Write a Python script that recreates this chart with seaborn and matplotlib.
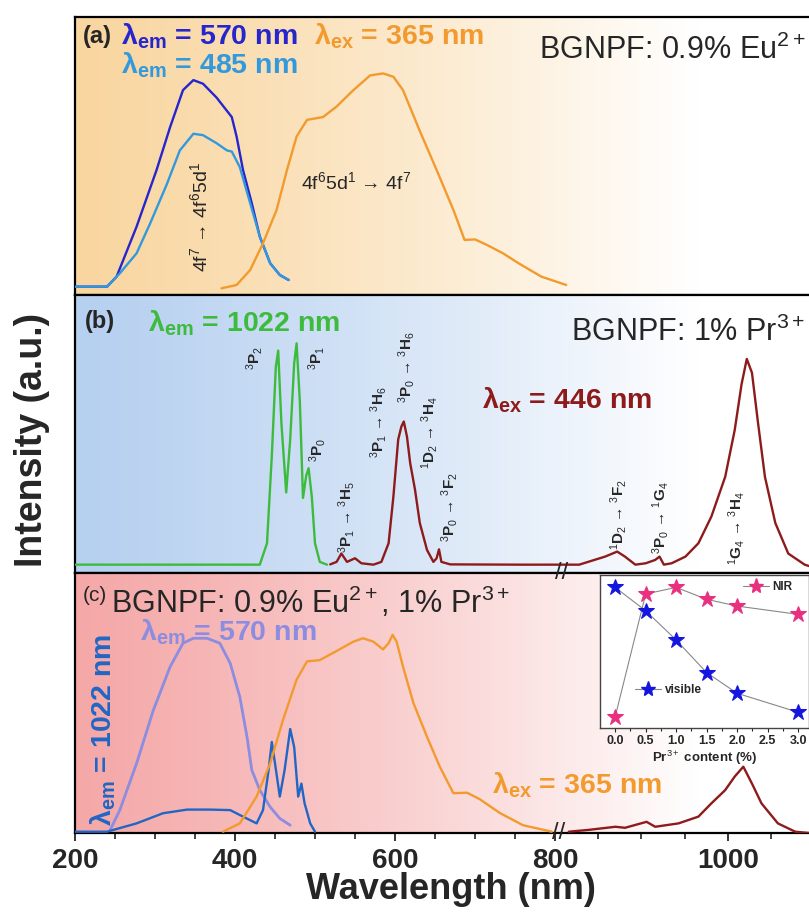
import numpy as np
import matplotlib
matplotlib.use("Agg")
import matplotlib.pyplot as plt
from matplotlib.lines import Line2D
import seaborn as sns

# ---- values (intensity = fraction of panel height) ----
# panel (a): BGNPF 0.9% Eu2+
a_em570_nm = [200, 240, 252, 277, 302, 319, 335, 348, 360, 377, 396, 402, 410, 421, 431, 444, 456, 467]
a_em570_int = [0.03, 0.03, 0.066, 0.246, 0.45, 0.605, 0.737, 0.773, 0.76, 0.71, 0.64, 0.57, 0.45, 0.33, 0.21, 0.114, 0.072, 0.054]
a_em485_nm = [200, 240, 256, 277, 294, 315, 331, 348, 360, 377, 390, 396, 406, 419, 431, 444, 456, 467]
a_em485_int = [0.03, 0.03, 0.078, 0.15, 0.258, 0.40, 0.52, 0.58, 0.575, 0.546, 0.52, 0.516, 0.46, 0.33, 0.21, 0.114, 0.072, 0.054]
a_ex365_nm = [383, 402, 419, 435, 452, 465, 477, 490, 510, 527, 548, 569, 585, 598, 610, 631, 652, 673, 687,
              700, 715, 735, 754, 783, 813]
a_ex365_int = [0.024, 0.036, 0.09, 0.186, 0.306, 0.45, 0.57, 0.63, 0.64, 0.678, 0.737, 0.79, 0.797, 0.785, 0.737,
               0.59, 0.45, 0.306, 0.198, 0.20, 0.18, 0.15, 0.115, 0.066, 0.036]

# panel (b): BGNPF 1% Pr3+
b_em1022_nm = [200, 431, 440, 446, 451, 454, 458, 464, 469, 474, 477, 481, 485, 489, 492, 496, 500, 506, 515]
b_em1022_int = [0.03, 0.03, 0.107, 0.42, 0.74, 0.80, 0.54, 0.29, 0.48, 0.755, 0.826, 0.62, 0.27, 0.35, 0.377,
                0.275, 0.107, 0.04, 0.03]
b_ex446_nm = [519, 527, 533, 540, 550, 558, 573, 583, 592, 598, 604, 608, 611, 615, 619, 625, 631, 640, 648, 652,
              655, 658, 669, 756, 808, 828, 858, 872, 881, 893, 905, 916, 921, 926, 935, 951, 966, 981, 997, 1008,
              1016, 1022, 1028, 1035, 1043, 1055, 1070, 1089, 1094]
b_ex446_int = [0.031, 0.04, 0.07, 0.04, 0.053, 0.035, 0.03, 0.04, 0.107, 0.275, 0.48, 0.527, 0.545, 0.49, 0.395,
               0.30, 0.18, 0.083, 0.04, 0.053, 0.085, 0.04, 0.031, 0.03, 0.03, 0.03, 0.059, 0.077, 0.059, 0.03,
               0.035, 0.047, 0.059, 0.03, 0.035, 0.059, 0.107, 0.203, 0.346, 0.514, 0.68, 0.77, 0.72, 0.54, 0.346,
               0.18, 0.07, 0.03, 0.025]

# panel (c): BGNPF 0.9% Eu2+, 1% Pr3+
c_em570_nm = [244, 256, 277, 298, 319, 335, 348, 365, 381, 394, 406, 415, 421, 431, 444, 456, 469]
c_em570_int = [0.012, 0.088, 0.268, 0.473, 0.64, 0.73, 0.749, 0.749, 0.73, 0.653, 0.524, 0.37, 0.242, 0.165,
               0.10, 0.056, 0.03]
c_em1022_nm = [200, 240, 277, 310, 340, 369, 394, 410, 427, 435, 442, 446, 450, 456, 462, 469, 474, 479, 483,
               487, 494, 500]
c_em1022_int = [0.005, 0.005, 0.037, 0.076, 0.09, 0.09, 0.088, 0.063, 0.037, 0.088, 0.242, 0.35, 0.268, 0.14,
                0.242, 0.40, 0.33, 0.14, 0.19, 0.114, 0.037, 0.005]
c_ex365_nm = [385, 406, 427, 444, 460, 477, 490, 506, 527, 548, 560, 573, 585, 592, 597, 602, 610, 623, 640, 656,
              673, 690, 706, 731, 760, 796]
c_ex365_int = [0.005, 0.037, 0.14, 0.268, 0.435, 0.59, 0.66, 0.665, 0.70, 0.736, 0.749, 0.736, 0.706, 0.73, 0.762,
               0.736, 0.64, 0.50, 0.37, 0.255, 0.153, 0.155, 0.13, 0.077, 0.03, 0.005]
c_nir_nm = [816, 839, 870, 881, 906, 916, 943, 966, 981, 997, 1008, 1018, 1028, 1039, 1058, 1078, 1094]
c_nir_int = [0.005, 0.012, 0.024, 0.02, 0.043, 0.024, 0.037, 0.063, 0.114, 0.165, 0.217, 0.255, 0.19, 0.114,
             0.037, 0.005, 0.0]

# inset: integrated intensity vs Pr3+ content
pr_content = [0.0, 0.5, 1.0, 1.5, 2.0, 3.0]
nir_level = [0.075, 0.876, 0.919, 0.841, 0.797, 0.743]
vis_level = [0.919, 0.766, 0.575, 0.362, 0.227, 0.103]

x_major = [200, 400, 600, 800, 1000]

# ---- style ----
sns.set_theme(style="ticks")
plt.rcParams["font.family"] = ["Liberation Sans", "DejaVu Sans"]
plt.rcParams["mathtext.fontset"] = "custom"
plt.rcParams["mathtext.rm"] = "Liberation Sans"
plt.rcParams["mathtext.bf"] = "Liberation Sans:bold"
plt.rcParams["mathtext.it"] = "Liberation Sans:italic"
plt.rcParams["mathtext.sf"] = "Liberation Sans"

DBLUE, LBLUE, ORANGE = "#2626cc", "#3399dd", "#f39a2e"
GREEN, DRED = "#3dbb3d", "#8e1b1b"
LAV, CBLUE = "#8c8ce0", "#2166c4"


# broken axis above 800 nm is stretched a bit
def fwd(x):
    x = np.asarray(x, dtype=float)
    return np.where(x <= 800, x, 800 + (x - 800) * 1.08)


def inv(y):
    y = np.asarray(y, dtype=float)
    return np.where(y <= 800, y, 800 + (y - 800) / 1.08)


def shade(ax, rgb):
    t = np.linspace(0, 1, 256)
    w = np.clip(t / 0.85, 0, 1) ** 1.2
    base = np.array(rgb) / 255.0
    row = base[None, :] * (1 - w[:, None]) + w[:, None]
    ax.imshow(row[None, :, :], extent=[0, 1, 0, 1], transform=ax.transAxes,
              aspect="auto", zorder=0, interpolation="bilinear")


fig = plt.figure(figsize=(8.09, 9.17), dpi=100)
left = 75 / 809
ax_a = fig.add_axes([left, 1 - 295 / 917, 1 - left, 278 / 917])
ax_b = fig.add_axes([left, 1 - 573 / 917, 1 - left, 278 / 917])
ax_c = fig.add_axes([left, 1 - 833 / 917, 1 - left, 260 / 917])

shade(ax_a, (249, 214, 160))
shade(ax_b, (182, 208, 240))
shade(ax_c, (245, 168, 168))

lw = 1.7
sns.lineplot(x=a_em570_nm, y=a_em570_int, ax=ax_a, color=DBLUE, lw=lw, zorder=3)
sns.lineplot(x=a_em485_nm, y=a_em485_int, ax=ax_a, color=LBLUE, lw=lw, zorder=3)
sns.lineplot(x=a_ex365_nm, y=a_ex365_int, ax=ax_a, color=ORANGE, lw=lw, zorder=3)

sns.lineplot(x=b_em1022_nm, y=b_em1022_int, ax=ax_b, color=GREEN, lw=lw, zorder=3)
sns.lineplot(x=b_ex446_nm, y=b_ex446_int, ax=ax_b, color=DRED, lw=lw, zorder=3)

sns.lineplot(x=c_em570_nm, y=c_em570_int, ax=ax_c, color=LAV, lw=lw + 0.3, zorder=3)
sns.lineplot(x=c_em1022_nm, y=c_em1022_int, ax=ax_c, color=CBLUE, lw=lw, zorder=3)
sns.lineplot(x=c_ex365_nm, y=c_ex365_int, ax=ax_c, color=ORANGE, lw=lw, zorder=3)
sns.lineplot(x=c_nir_nm, y=c_nir_int, ax=ax_c, color=DRED, lw=lw, zorder=3)

for ax in (ax_a, ax_b, ax_c):
    ax.set_xscale("function", functions=(fwd, inv))
    ax.set_xlim(200, 1094)
    ax.set_ylim(0, 1)
    ax.set_yticks([])
    ax.set_ylabel("")
    ax.spines["right"].set_visible(False)
    for s in ("left", "top", "bottom"):
        ax.spines[s].set_linewidth(1.6)
        ax.spines[s].set_color("black")
    ax.set_xticks(x_major)
    ax.set_xticks([v for v in range(250, 1100, 50) if v not in x_major], minor=True)

for ax in (ax_a, ax_b):
    ax.tick_params(axis="x", which="both", bottom=False, labelbottom=False)

ax_c.tick_params(axis="x", which="major", direction="out", length=6, width=1.3, labelsize=20, pad=5)
ax_c.tick_params(axis="x", which="minor", direction="out", length=4, width=1.2)
ax_c.set_xticklabels([str(v) for v in x_major], fontweight="bold")
ax_c.set_xlabel("Wavelength (nm)", fontsize=26, fontweight="bold")
ax_c.xaxis.set_label_coords(0.512, -0.15)

fig.text(0.04, 0.52, "Intensity (a.u.)", rotation=90, fontsize=27, fontweight="bold",
         ha="center", va="center")

big = 20.5
# panel (a) texts
ax_a.text(210, 0.93, "(a)", fontsize=17, fontweight="bold", va="center")
ax_a.text(258, 0.93, r"λ$_{\mathbf{em}}$ = 570 nm", color=DBLUE, fontsize=big, fontweight="bold", va="center")
ax_a.text(258, 0.827, r"λ$_{\mathbf{em}}$ = 485 nm", color=LBLUE, fontsize=big, fontweight="bold", va="center")
ax_a.text(499, 0.93, r"λ$_{\mathbf{ex}}$ = 365 nm", color=ORANGE, fontsize=big, fontweight="bold", va="center")
ax_a.text(0.995, 0.88, r"BGNPF: 0.9% Eu$^{2+}$", transform=ax_a.transAxes, fontsize=22,
          ha="right", va="center")
ax_a.text(356, 0.28, r"4f$^7$ → 4f$^6$5d$^1$", rotation=90, fontsize=14, ha="center", va="center")
ax_a.text(552, 0.406, r"4f$^6$5d$^1$ → 4f$^7$", fontsize=14, ha="center", va="center")

# panel (b) texts
ax_b.text(212, 0.903, "(b)", fontsize=17, fontweight="bold", va="center")
ax_b.text(291, 0.90, r"λ$_{\mathbf{em}}$ = 1022 nm", color=GREEN, fontsize=big, fontweight="bold", va="center")
ax_b.text(709, 0.622, r"λ$_{\mathbf{ex}}$ = 446 nm", color=DRED, fontsize=big, fontweight="bold", va="center")
ax_b.text(0.995, 0.867, r"BGNPF: 1% Pr$^{3+}$", transform=ax_b.transAxes, fontsize=22,
          ha="right", va="center")
levels = [
    (424, 0.773, r"$^3$P$_2$"),
    (502, 0.773, r"$^3$P$_1$"),
    (503, 0.442, r"$^3$P$_0$"),
    (539, 0.20, r"$^3$P$_1$ → $^3$H$_5$"),
    (580, 0.543, r"$^3$P$_1$ → $^3$H$_6$"),
    (614, 0.741, r"$^3$P$_0$ → $^3$H$_6$"),
    (643, 0.504, r"$^1$D$_2$ → $^3$H$_4$"),
    (668, 0.237, r"$^3$P$_0$ → $^3$F$_2$"),
    (874, 0.209, r"$^1$D$_2$ → $^3$F$_2$"),
    (922, 0.20, r"$^3$P$_0$ → $^1$G$_4$"),
    (1010, 0.16, r"$^1$G$_4$ → $^3$H$_4$"),
]
for xv, yv, s in levels:
    ax_b.text(xv, yv, s, rotation=90, fontsize=11, fontweight="bold", ha="center", va="center")

# panel (c) texts
ax_c.text(210, 0.912, "(c)", fontsize=15, va="center")
ax_c.text(245, 0.888, r"BGNPF: 0.9% Eu$^{2+}$, 1% Pr$^{3+}$", fontsize=22, va="center")
ax_c.text(281, 0.773, r"λ$_{\mathbf{em}}$ = 570 nm", color=LAV, fontsize=big, fontweight="bold", va="center")
ax_c.text(235, 0.396, r"λ$_{\mathbf{em}}$ = 1022 nm", color=CBLUE, fontsize=big, fontweight="bold",
          rotation=90, ha="center", va="center")
ax_c.text(721, 0.185, r"λ$_{\mathbf{ex}}$ = 365 nm", color=ORANGE, fontsize=big, fontweight="bold", va="center")

# axis break marks
for yv in (0.0, 1.0):
    ax_c.text(804 if yv == 0 else 808, yv, "//", transform=ax_c.get_xaxis_transform(), fontsize=17,
              ha="center", va="center", zorder=10, clip_on=False)

# inset
ax_in = fig.add_axes([600 / 809, 1 - 728 / 917, 1 - 600 / 809, 153 / 917])
ax_in.set_facecolor("white")
sns.lineplot(x=pr_content, y=nir_level, ax=ax_in, color="#888888", lw=0.8, marker="*", markersize=12,
             markerfacecolor="#e8307f", markeredgecolor="#e8307f", zorder=3)
sns.lineplot(x=pr_content, y=vis_level, ax=ax_in, color="#888888", lw=0.8, marker="*", markersize=12,
             markerfacecolor="#1515e0", markeredgecolor="#1515e0", zorder=3)
ax_in.set_xlim(-0.25, 3.18)
ax_in.set_ylim(0, 1)
ax_in.set_yticks([])
ax_in.set_xticks([0, 0.5, 1.0, 1.5, 2.0, 2.5, 3.0])
ax_in.set_xticks([0.25, 0.75, 1.25, 1.75, 2.25, 2.75], minor=True)
ax_in.set_xticklabels(["0.0", "0.5", "1.0", "1.5", "2.0", "2.5", "3.0"], fontweight="bold")
ax_in.tick_params(axis="x", which="major", direction="out", length=3, width=0.8, labelsize=9, pad=2)
ax_in.tick_params(axis="x", which="minor", direction="out", length=2, width=0.8)
ax_in.set_xlabel(r"Pr$^{3+}$ content (%)", fontsize=9.5, fontweight="bold", labelpad=1)
for s in ax_in.spines.values():
    s.set_color("#444444")
    s.set_linewidth(1.0)

nir_h = Line2D([], [], color="#888888", lw=0.8, marker="*", markersize=11,
               markerfacecolor="#e8307f", markeredgecolor="#e8307f")
vis_h = Line2D([], [], color="#888888", lw=0.8, marker="*", markersize=11,
               markerfacecolor="#1515e0", markeredgecolor="#1515e0")
leg1 = ax_in.legend([nir_h], ["NIR"], loc="center right", bbox_to_anchor=(0.95, 0.92), frameon=False,
                    prop={"weight": "bold", "size": 8.5}, handlelength=2.2, borderpad=0, handletextpad=0.3)
ax_in.add_artist(leg1)
ax_in.legend([vis_h], ["visible"], loc="center left", bbox_to_anchor=(0.14, 0.25), frameon=False,
             prop={"weight": "bold", "size": 8.5}, handlelength=2.2, borderpad=0, handletextpad=0.3)

fig.savefig("out.png", dpi=100)
